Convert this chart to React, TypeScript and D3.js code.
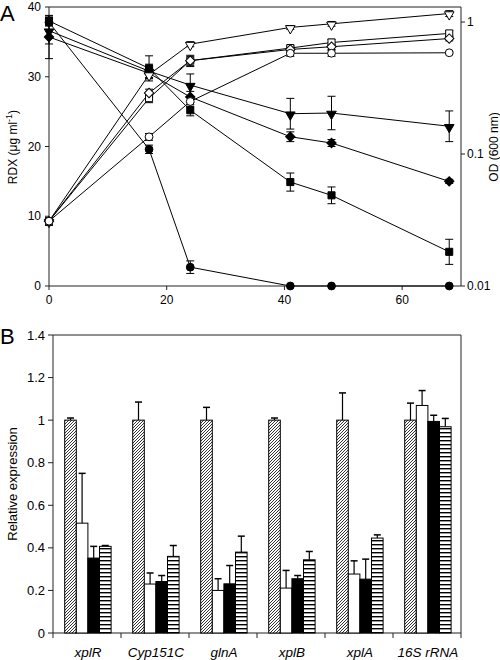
import React from "react";
import * as d3 from "d3";

// ---------- Panel A data ----------
const times = [0, 17, 24, 41, 48, 68];
const xTicksA = [0, 20, 40, 60];
const leftTicksA = [0, 10, 20, 30, 40];
const rightTicksA = [0.01, 0.1, 1];
const rightTickLabelsA = ["0.01", "0.1", "1"];

// RDX (filled symbols, left axis)
const rdxCircle = [37.8, 19.6, 2.7, 0, 0, 0];
const rdxCircleErr = [0.5, 0.6, 0.9, 0, 0, 0];
const rdxSquare = [38.0, 31.2, 25.2, 14.9, 13.0, 4.9];
const rdxSquareErr = [0.7, 1.8, 0.8, 1.3, 1.2, 1.8];
const rdxDiamond = [35.7, 30.5, 27.1, 21.4, 20.5, 15.0];
const rdxDiamondErr = [3.1, 0.8, 0.8, 0.7, 0.5, 0.3];
const rdxTriangle = [36.6, 30.8, 28.8, 24.7, 24.8, 22.9];
const rdxTriangleErr = [1.9, 1.0, 1.6, 2.2, 2.4, 2.2];

// OD (open symbols, right log axis)
const odTriangle = [0.031, 0.4, 0.68, 0.91, 0.97, 1.16];
const odTriangleErr = [0.002, 0.02, 0.03, 0.03, 0.04, 0.06];
const odSquare = [0.031, 0.265, 0.51, 0.635, 0.7, 0.82];
const odSquareErr = [0.002, 0.02, 0.05, 0.03, 0.04, 0.04];
const odDiamond = [0.031, 0.29, 0.51, 0.62, 0.65, 0.75];
const odDiamondErr = [0.002, 0.02, 0.04, 0.03, 0.03, 0.03];
const odCircle = [0.031, 0.135, 0.25, 0.58, 0.58, 0.585];
const odCircleErr = [0.002, 0.008, 0.02, 0.03, 0.03, 0.01];

// ---------- Panel B data ----------
const genes = ["xplR", "Cyp151C", "glnA", "xplB", "xplA", "16S rRNA"];
const yTicksB = [0, 0.2, 0.4, 0.6, 0.8, 1, 1.2, 1.4];
const yTickLabelsB = ["0", "0.2", "0.4", "0.6", "0.8", "1", "1.2", "1.4"];
const hatched = [1, 1, 1, 1, 1, 1];
const hatchedErr = [0.01, 0.085, 0.06, 0.01, 0.128, 0.08];
const white = [0.516, 0.23, 0.2, 0.211, 0.277, 1.069];
const whiteErr = [0.234, 0.052, 0.055, 0.083, 0.062, 0.07];
const black = [0.352, 0.242, 0.231, 0.255, 0.253, 0.994];
const blackErr = [0.055, 0.028, 0.086, 0.015, 0.094, 0.029];
const striped = [0.407, 0.36, 0.38, 0.344, 0.446, 0.969];
const stripedErr = [0.004, 0.051, 0.075, 0.039, 0.015, 0.039];

const FONT = "'Liberation Sans', Arial, sans-serif";

export default function App() {
  // Panel A scales
  const xA = d3.scaleLinear().domain([0, 70]).range([49, 461]);
  const yL = d3.scaleLinear().domain([0, 40]).range([286, 7]);
  const yR = d3.scaleLog().domain([0.01, 1.3]).range([286, 7]);

  // Panel B scales
  const xB = d3.scaleBand().domain(genes).range([53, 461]).padding(0);
  const yB = d3.scaleLinear().domain([0, 1.4]).range([633, 335]);
  const barW = 11.6;
  const groupOff = 11.7;

  const sym = (type: any, size: number) => d3.symbol().type(type).size(size)() as string;
  const circleP = sym(d3.symbolCircle, 48);
  const squareP = sym(d3.symbolSquare, 50);
  const diamondP = sym(d3.symbolSquare, 44);
  const triP = sym(d3.symbolTriangle, 40);

  const seriesA = [
    { vals: rdxCircle, err: rdxCircleErr, y: yL, path: circleP, rot: 0, fill: "#000", dy: 0 },
    { vals: rdxSquare, err: rdxSquareErr, y: yL, path: squareP, rot: 0, fill: "#000", dy: 0 },
    { vals: rdxDiamond, err: rdxDiamondErr, y: yL, path: diamondP, rot: 45, fill: "#000", dy: 0 },
    { vals: rdxTriangle, err: rdxTriangleErr, y: yL, path: triP, rot: 180, fill: "#000", dy: 1 },
    { vals: odTriangle, err: odTriangleErr, y: yR, path: triP, rot: 180, fill: "#fff", dy: 1 },
    { vals: odSquare, err: odSquareErr, y: yR, path: squareP, rot: 0, fill: "#fff", dy: 0 },
    { vals: odDiamond, err: odDiamondErr, y: yR, path: diamondP, rot: 45, fill: "#fff", dy: 0 },
    { vals: odCircle, err: odCircleErr, y: yR, path: circleP, rot: 0, fill: "#fff", dy: 0 },
  ];

  const lineGen = (s: any) =>
    d3
      .line<number>()
      .x((_, i) => xA(times[i]))
      .y((v) => s.y(v))(s.vals) as string;

  const barSeries = [
    { vals: hatched, err: hatchedErr, fill: "url(#hatch)" },
    { vals: white, err: whiteErr, fill: "#fff" },
    { vals: black, err: blackErr, fill: "#000" },
    { vals: striped, err: stripedErr, fill: "url(#hstripe)" },
  ];

  const axisColor = "#222";

  return (
    <svg
      width={500}
      height={660}
      style={{ display: "block", position: "absolute", left: 0, top: 0 }}
      fontFamily={FONT}
    >
      <defs>
        <pattern id="hatch" patternUnits="userSpaceOnUse" width="3" height="3">
          <rect width="3" height="3" fill="#fff" />
          <path d="M-1,1 l2,-2 M0,3 l3,-3 M2,4 l2,-2" stroke="#000" strokeWidth="0.8" />
        </pattern>
        <pattern id="hstripe" patternUnits="userSpaceOnUse" width="4" height="4">
          <rect width="4" height="4" fill="#fff" />
          <rect y="0" width="4" height="1.4" fill="#000" />
        </pattern>
      </defs>
      <rect width={500} height={660} fill="#fff" />
      <g>
        {/* ---------------- Panel A ---------------- */}
        <text x={0} y={21} fontSize={22}>A</text>
        <line x1={49} x2={461} y1={7} y2={7} stroke={axisColor} />
        <line x1={461} x2={461} y1={7} y2={286} stroke={axisColor} />
        <line x1={49} x2={49} y1={7} y2={286} stroke={axisColor} />
        <line x1={49} x2={461} y1={286} y2={286} stroke={axisColor} />
        {leftTicksA.map((t) => (
          <g key={"l" + t}>
            <line x1={45} x2={49} y1={yL(t)} y2={yL(t)} stroke={axisColor} />
            <text x={41} y={yL(t)} dy="0.35em" textAnchor="end" fontSize={12}>{t}</text>
          </g>
        ))}
        {rightTicksA.map((t, i) => (
          <g key={"r" + t}>
            <line x1={461} x2={465} y1={yR(t)} y2={yR(t)} stroke={axisColor} />
            <text x={467} y={yR(t)} dy="0.35em" textAnchor="start" fontSize={12}>{rightTickLabelsA[i]}</text>
          </g>
        ))}
        {xTicksA.map((t) => (
          <g key={"x" + t}>
            <line x1={xA(t)} x2={xA(t)} y1={286} y2={290} stroke={axisColor} />
            <text x={xA(t)} y={304} textAnchor="middle" fontSize={12}>{t}</text>
          </g>
        ))}
        <text transform={`translate(17,147) rotate(-90)`} textAnchor="middle" fontSize={12}>
          RDX (μg ml<tspan dy={-5} fontSize={9}>-1</tspan><tspan dy={5}>)</tspan>
        </text>
        <text transform={`translate(498,147) rotate(-90)`} textAnchor="middle" fontSize={12}>
          OD (600 nm)
        </text>
        {seriesA.map((s, k) => (
          <path key={"ln" + k} d={lineGen(s)} fill="none" stroke="#000" strokeWidth={1} />
        ))}
        {seriesA.map((s, k) =>
          s.vals.map((v, i) => {
            const e = s.err[i];
            if (!e) return null;
            const x = xA(times[i]);
            const y1 = s.y(Math.max(v - e, s.y === yR ? 0.0101 : 0));
            const y2 = s.y(v + e);
            return (
              <g key={`e${k}-${i}`} stroke="#000" strokeWidth={1}>
                <line x1={x} x2={x} y1={y1} y2={y2} />
                <line x1={x - 4} x2={x + 4} y1={y1} y2={y1} />
                <line x1={x - 4} x2={x + 4} y1={y2} y2={y2} />
              </g>
            );
          })
        )}
        {seriesA.map((s, k) =>
          s.vals.map((v, i) => (
            <path
              key={`m${k}-${i}`}
              d={s.path}
              transform={`translate(${xA(times[i])},${s.y(v) + s.dy}) rotate(${s.rot})`}
              fill={s.fill}
              stroke="#000"
              strokeWidth={1}
            />
          ))
        )}

        {/* ---------------- Panel B ---------------- */}
        <text x={0} y={344} fontSize={22}>B</text>
        <line x1={53} x2={461} y1={335} y2={335} stroke={axisColor} />
        <line x1={461} x2={461} y1={335} y2={633} stroke={axisColor} />
        <line x1={53} x2={53} y1={335} y2={633} stroke={axisColor} />
        <line x1={53} x2={461} y1={633} y2={633} stroke={axisColor} />
        {yTicksB.map((t, i) => (
          <g key={"yb" + t}>
            <line x1={48} x2={53} y1={yB(t)} y2={yB(t)} stroke={axisColor} />
            <text x={45} y={yB(t)} dy="0.35em" textAnchor="end" fontSize={13}>{yTickLabelsB[i]}</text>
          </g>
        ))}
        {genes.map((g) => (
          <line key={"tb" + g} x1={xB(g)! + xB.bandwidth()} x2={xB(g)! + xB.bandwidth()} y1={633} y2={638} stroke={axisColor} />
        ))}
        <line x1={53} x2={53} y1={633} y2={638} stroke={axisColor} />
        {genes.map((g) => (
          <text
            key={"gl" + g}
            x={xB(g)! + groupOff + barW * 2}
            y={657}
            textAnchor="middle"
            fontSize={13.5}
            fontStyle="italic"
          >
            {g}
          </text>
        ))}
        <text transform={`translate(17,484) rotate(-90)`} textAnchor="middle" fontSize={13}>
          Relative expression
        </text>
        {barSeries.map((s, k) =>
          genes.map((g, i) => {
            const x = xB(g)! + groupOff + k * barW;
            const v = s.vals[i];
            const top = yB(v);
            const et = yB(v + s.err[i]);
            return (
              <g key={`b${k}-${i}`}>
                <line x1={x + barW / 2} x2={x + barW / 2} y1={top} y2={et} stroke="#000" strokeWidth={1.2} />
                <line x1={x + barW / 2 - 3.5} x2={x + barW / 2 + 3.5} y1={et} y2={et} stroke="#000" strokeWidth={1.5} />
                <rect x={x} y={top} width={barW} height={633 - top} fill={s.fill} stroke="#000" strokeWidth={1} />
              </g>
            );
          })
        )}
      </g>
    </svg>
  );
}
